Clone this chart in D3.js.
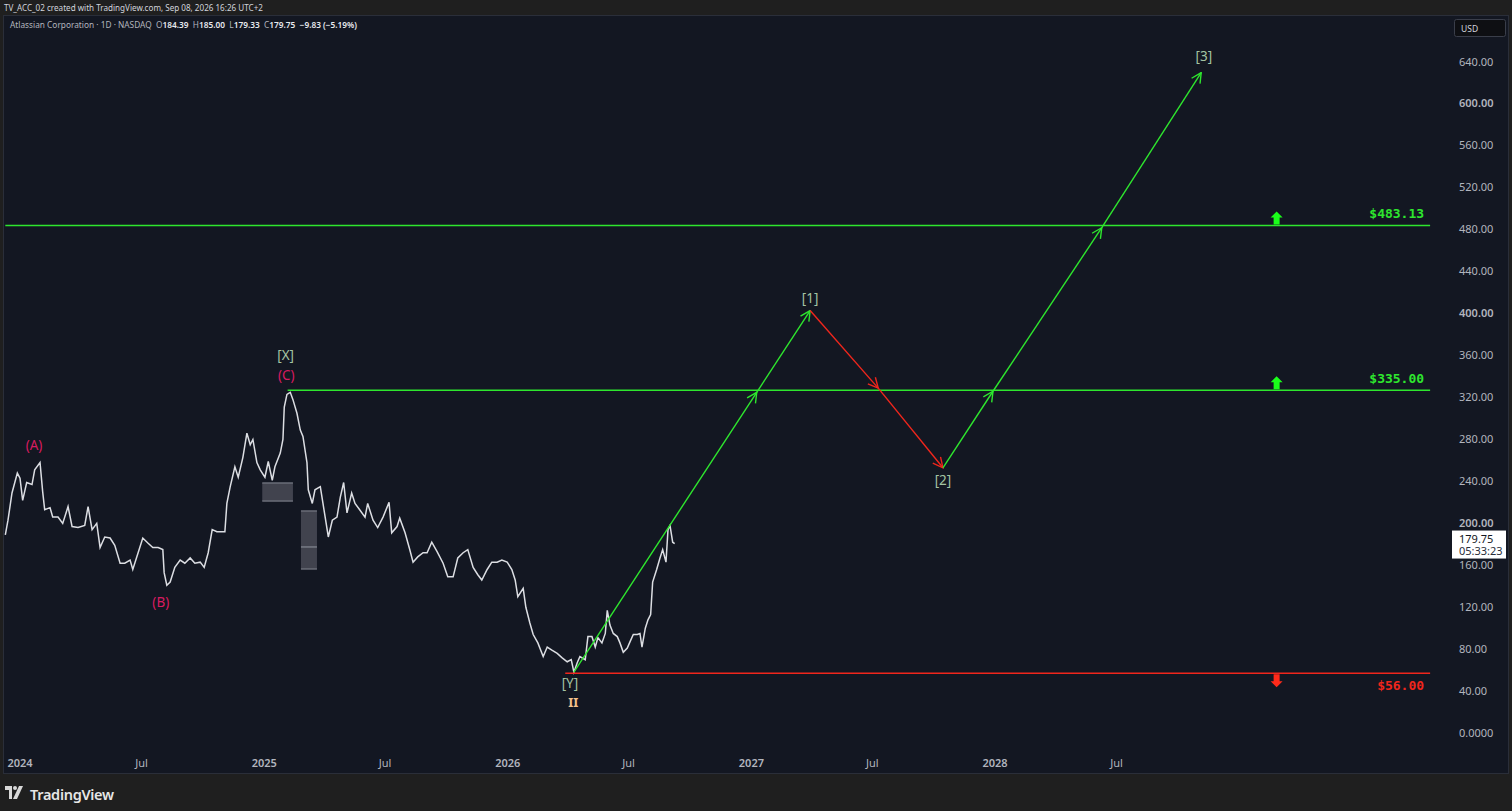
<!DOCTYPE html>
<html><head><meta charset="utf-8">
<script src="https://cdn.jsdelivr.net/npm/d3@7"></script>
<style>
html,body{margin:0;padding:0;background:#1f1f1f;overflow:hidden;}
svg{display:block;}
</style></head>
<body>
<script>
// ---------- DATA ----------
const priceDates = ["2023-12-10","2023-12-14","2023-12-20","2023-12-28","2024-01-01","2024-01-05","2024-01-11","2024-01-19","2024-01-23","2024-01-31",
"2024-02-04","2024-02-07","2024-02-15","2024-02-19","2024-02-27","2024-03-05","2024-03-13","2024-03-19","2024-03-28","2024-04-07",
"2024-04-12","2024-04-18","2024-04-25","2024-04-30","2024-05-07","2024-05-15","2024-05-22","2024-05-30","2024-06-06","2024-06-14",
"2024-06-18","2024-06-26","2024-07-03","2024-07-11","2024-07-18","2024-07-26","2024-08-02","2024-08-04","2024-08-08","2024-08-13",
"2024-08-20","2024-08-28","2024-09-04","2024-09-12","2024-09-19","2024-09-27","2024-10-03","2024-10-09","2024-10-15","2024-10-22",
"2024-10-30","2024-11-03","2024-11-06","2024-11-11","2024-11-18","2024-11-23","2024-11-30","2024-12-06","2024-12-11","2024-12-15",
"2024-12-21","2024-12-26","2025-01-02","2025-01-07","2025-01-13","2025-01-17","2025-01-25","2025-01-29","2025-01-31","2025-02-04",
"2025-02-09","2025-02-13","2025-02-19","2025-02-24","2025-02-28","2025-03-06","2025-03-08","2025-03-14","2025-03-18","2025-03-26",
"2025-03-30","2025-04-07","2025-04-13","2025-04-20","2025-04-25","2025-04-30","2025-05-05","2025-05-12","2025-05-17","2025-05-24",
"2025-06-01","2025-06-05","2025-06-13","2025-06-20","2025-06-28","2025-07-07","2025-07-11","2025-07-19","2025-07-23","2025-07-31",
"2025-08-07","2025-08-12","2025-08-19","2025-08-27","2025-09-02","2025-09-09","2025-09-17","2025-09-26","2025-10-03","2025-10-11",
"2025-10-18","2025-10-26","2025-11-02","2025-11-10","2025-11-17","2025-11-23","2025-12-01","2025-12-08","2025-12-16","2025-12-23",
"2025-12-31","2026-01-07","2026-01-12","2026-01-16","2026-01-24","2026-01-28","2026-02-03","2026-02-08","2026-02-15","2026-02-23",
"2026-03-01","2026-03-08","2026-03-16","2026-03-23","2026-03-31","2026-04-06","2026-04-10","2026-04-15","2026-04-19","2026-04-27",
"2026-05-01","2026-05-07","2026-05-12","2026-05-16","2026-05-22","2026-05-27","2026-05-30","2026-06-03","2026-06-08","2026-06-14",
"2026-06-18","2026-06-23","2026-06-29","2026-07-03","2026-07-08","2026-07-14","2026-07-18","2026-07-21","2026-07-26","2026-07-30",
"2026-08-03","2026-08-06","2026-08-12","2026-08-17","2026-08-21","2026-08-26","2026-08-29","2026-09-01","2026-09-05","2026-09-08"];
const priceValues = [188,202,228,247,242,221,238,236,250,257,
229,212,214,205,205,199,215,196,195,197,
215,193,199,176,186,185,178,161,161,164,
155,171,185,180,176,176,174,152,140,143,
157,164,161,166,161,162,157,171,193,191,
191,191,218,234,253,243,262,285,274,279,
257,250,243,258,240,253,266,279,310,322,
324,317,304,288,282,257,231,218,231,234,
218,186,202,205,224,238,209,228,218,212,
205,218,202,195,205,219,190,196,204,190,
174,162,167,171,171,181,172,161,148,148,
166,171,174,157,150,145,155,162,162,164,
162,155,145,129,137,119,104,93,85,72,
81,78,75,71,67,69,57,66,72,69,
91,91,81,90,85,94,116,102,94,91,
85,76,80,86,93,93,94,81,99,107,
112,143,155,166,174,162,193,197,181,179.75];

// gray zones (date range, price range, mid line)
const zoneStarts = ["2024-12-29","2025-02-25"];
const zoneEnds   = ["2025-02-13","2025-03-21"];
const zoneTops   = [237.5,210.8];
const zoneBottoms= [220.3,155.5];
const zoneMids   = [null,176.5];

// horizontal levels
const levelValues = [483.13, 326, 56];
const levelLabels = ["$483.13","$335.00","$56.00"];
const levelStarts = ["2023-12-10","2025-02-05","2026-03-28"];
const levelEnd = "2029-10-14";
const levelDirs = ["up","up","down"];
const levelArrowDate = "2029-02-26";

// projection path
const projDates  = ["2026-04-10","2027-01-09","2027-03-30","2027-07-10","2027-10-15","2027-12-29","2028-06-09","2028-11-05"];
const projValues = [57,324,402,328,252,325,481,629];
const projColors = ["g","g","r","r","g","g","g"];

// wave labels
const waveTexts  = ["(A)","(B)","(C)","[X]","[Y]","II","[1]","[2]","[3]"];
const waveDates  = ["2024-01-22","2024-07-30","2025-02-03","2025-02-02","2026-04-04","2026-04-09","2027-03-30","2027-10-15","2028-11-09"];
const waveValues = [274,124,340.5,360,46.7,28.6,414,240,645];
const waveKinds  = ["p","p","p","s","s","o","s","s","s"];

const yTicks = [0,40,80,120,160,200,240,280,320,360,400,440,480,520,560,600,640];
const xTickDates = ["2024-01-01","2024-07-01","2025-01-01","2025-07-01","2026-01-01","2026-07-01","2027-01-01","2027-07-01","2028-01-01","2028-07-01"];
const xTickLabels = ["2024","Jul","2025","Jul","2026","Jul","2027","Jul","2028","Jul"];

const legendName = "Atlassian Corporation · 1D · NASDAQ";
const legendOHLC = [["O","184.39"],["H","185.00"],["L","179.33"],["C","179.75"]];
const legendChange = "−9.83 (−5.19%)";
const lastPrice = "179.75";
const countdown = "05:33:23";

// ---------- DRAW ----------
const W = 1512, H = 811;
const parse = d3.utcParse("%Y-%m-%d");
const svg = d3.select("body").append("svg").attr("width", W).attr("height", H);

const BG = "#131722";
const GREEN = "#2ee62e";
const RED = "#f0261c";
const PINK = "#d81b60";
const SAGE = "#a3c4a3";
const AXIS_TXT = "#b2b5be";
const FONT = "'Noto Sans', 'Open Sans', sans-serif";

// outer & header
svg.append("rect").attr("width", W).attr("height", H).attr("fill", "#1f1f1f");
svg.append("text").attr("x", 4).attr("y", 10.5).attr("fill", "#d1d4dc")
  .attr("font-family", FONT).attr("font-size", 8.1)
  .text("TV_ACC_02 created with TradingView.com, Sep 08, 2026 16:26 UTC+2");

// panel
svg.append("rect").attr("x", 3.5).attr("y", 15.5).attr("width", 1505).attr("height", 758)
  .attr("fill", BG).attr("stroke", "#2a2e39").attr("stroke-width", 1);

// scales
const x = d3.scaleUtc().domain([parse("2024-01-01"), parse("2028-01-01")]).range([20, 995]);
const y = d3.scaleLinear().domain([0, 640]).range([732, 61]);

const defs = svg.append("defs");
defs.append("clipPath").attr("id", "plot").append("rect")
  .attr("x", 4).attr("y", 16).attr("width", 1444).attr("height", 757);
["g","r"].forEach(k => {
  defs.append("marker").attr("id", "arr-" + k)
    .attr("viewBox", "0 0 12 12").attr("refX", 11).attr("refY", 6)
    .attr("markerWidth", 12).attr("markerHeight", 12)
    .attr("markerUnits", "userSpaceOnUse").attr("orient", "auto")
    .append("path").attr("d", "M1,1 L11,6 L1,11")
    .attr("fill", "none").attr("stroke", k === "g" ? GREEN : RED).attr("stroke-width", 1.4);
});

const plot = svg.append("g").attr("clip-path", "url(#plot)");

// zones
zoneStarts.forEach((s, i) => {
  const x0 = x(parse(s)), x1 = x(parse(zoneEnds[i]));
  const y0 = y(zoneTops[i]), y1 = y(zoneBottoms[i]);
  plot.append("rect").attr("x", x0).attr("y", y0).attr("width", x1 - x0).attr("height", y1 - y0)
    .attr("fill", "#434651").attr("fill-opacity", 0.95);
  plot.append("line").attr("x1", x0).attr("x2", x1).attr("y1", y0).attr("y2", y0).attr("stroke", "#6a6d78").attr("stroke-width", 1.5);
  plot.append("line").attr("x1", x0).attr("x2", x1).attr("y1", y1).attr("y2", y1).attr("stroke", "#6a6d78").attr("stroke-width", 1.5);
  if (zoneMids[i] != null) {
    plot.append("line").attr("x1", x0).attr("x2", x1).attr("y1", y(zoneMids[i])).attr("y2", y(zoneMids[i]))
      .attr("stroke", "#787b86").attr("stroke-width", 1.5);
  }
});

// price series
const series = priceDates.map((d, i) => ({ d: parse(d), v: priceValues[i] }));
plot.append("path").datum(series)
  .attr("d", d3.line().x(p => x(p.d)).y(p => y(p.v)))
  .attr("fill", "none").attr("stroke", "#dcdee3").attr("stroke-width", 1.5).attr("stroke-linejoin", "miter");

// levels
levelValues.forEach((v, i) => {
  const col = levelDirs[i] === "up" ? GREEN : RED;
  const yy = y(v);
  plot.append("line").attr("x1", x(parse(levelStarts[i]))).attr("x2", x(parse(levelEnd)))
    .attr("y1", yy).attr("y2", yy).attr("stroke", col).attr("stroke-width", 1.5);
  const ax = x(parse(levelArrowDate));
  let pts;
  if (levelDirs[i] === "up") {
    pts = [[ax, yy-14],[ax+6, yy-8],[ax+3, yy-8],[ax+3, yy-1],[ax-3, yy-1],[ax-3, yy-8],[ax-6, yy-8]];
  } else {
    pts = [[ax, yy+14],[ax+6, yy+8],[ax+3, yy+8],[ax+3, yy+1],[ax-3, yy+1],[ax-3, yy+8],[ax-6, yy+8]];
  }
  plot.append("polygon").attr("points", pts.map(p => p.join(",")).join(" ")).attr("fill", levelDirs[i] === "up" ? "#1aff1a" : "#ff2a1a");
  plot.append("text").attr("x", x(parse(levelEnd)) - 6)
    .attr("y", levelDirs[i] === "up" ? yy - 12 : yy + 12)
    .attr("text-anchor", "end").attr("dominant-baseline", "central")
    .attr("fill", col).attr("font-family", "'DejaVu Sans Mono', monospace").attr("font-size", 13)
    .attr("font-weight", 700)
    .text(levelLabels[i]);
});

// projection path
for (let i = 0; i < projDates.length - 1; i++) {
  const k = projColors[i];
  plot.append("line")
    .attr("x1", x(parse(projDates[i]))).attr("y1", y(projValues[i]))
    .attr("x2", x(parse(projDates[i+1]))).attr("y2", y(projValues[i+1]))
    .attr("stroke", k === "g" ? GREEN : RED).attr("stroke-width", 1.4)
    .attr("marker-end", "url(#arr-" + k + ")");
}

// wave labels
const kindColor = { p: PINK, s: SAGE, o: "#f2c08c" };
waveTexts.forEach((t, i) => {
  plot.append("text").attr("x", x(parse(waveDates[i]))).attr("y", y(waveValues[i]))
    .attr("text-anchor", "middle").attr("dominant-baseline", "central")
    .attr("fill", kindColor[waveKinds[i]]).attr("font-family", FONT)
    .attr("font-size", waveKinds[i] === "o" ? 13 : 13.5)
    .attr("font-weight", waveKinds[i] === "o" ? 700 : 400)
    .text(t);
});

// y axis labels
const yAx = svg.append("g");
yTicks.forEach(t => {
  yAx.append("text").attr("x", 1459).attr("y", y(t)).attr("dominant-baseline", "central")
    .attr("fill", AXIS_TXT).attr("font-family", FONT).attr("font-size", 11)
    .attr("font-weight", (t % 200 === 0 && t > 0) ? 600 : 400)
    .text(t === 0 ? "0.0000" : d3.format(".2f")(t));
});

// x axis labels
xTickDates.forEach((d, i) => {
  svg.append("text").attr("x", x(parse(d))).attr("y", 762).attr("text-anchor", "middle")
    .attr("dominant-baseline", "central").attr("fill", AXIS_TXT)
    .attr("font-family", FONT).attr("font-size", 11).attr("font-weight", /^\d/.test(xTickLabels[i]) ? 600 : 400)
    .text(xTickLabels[i]);
});

// USD box
svg.append("rect").attr("x", 1454.5).attr("y", 19.5).attr("width", 51).attr("height", 17).attr("rx", 2)
  .attr("fill", "#0e0f13").attr("stroke", "#3a3e4a");
svg.append("text").attr("x", 1461).attr("y", 28.5).attr("dominant-baseline", "central")
  .attr("fill", "#d1d4dc").attr("font-family", FONT).attr("font-size", 8.5).text("USD");

// last price box
const lp = y(+lastPrice);
svg.append("rect").attr("x", 1452).attr("y", lp - 13).attr("width", 54).attr("height", 28).attr("fill", "#ffffff");
svg.append("text").attr("x", 1459).attr("y", lp - 5).attr("dominant-baseline", "central")
  .attr("fill", "#131722").attr("font-family", FONT).attr("font-size", 11).text(lastPrice);
svg.append("text").attr("x", 1459).attr("y", lp + 7).attr("dominant-baseline", "central")
  .attr("fill", "#2a2e39").attr("font-family", FONT).attr("font-size", 11).text(countdown);

// legend
const lg = svg.append("text").attr("x", 10).attr("y", 27.5).attr("font-family", FONT).attr("font-size", 8.3).attr("fill", AXIS_TXT)
  .attr("xml:space", "preserve");
lg.append("tspan").text(legendName + "  ");
legendOHLC.forEach(([k, v]) => {
  lg.append("tspan").text(k);
  lg.append("tspan").attr("fill", "#e8eaee").attr("font-weight", 600).text(v + "  ");
});
lg.append("tspan").attr("fill", "#e8eaee").attr("font-weight", 600).text(legendChange);

// footer logo
const logo = svg.append("g").attr("transform", "translate(5,786)");
logo.append("path").attr("d", "M0,0 H7 V13 H4 V4 H0 Z").attr("fill", "#d8d8d8");
logo.append("circle").attr("cx", 10).attr("cy", 2).attr("r", 2).attr("fill", "#d8d8d8");
logo.append("path").attr("d", "M14,0 H18 L12,13 H8 Z").attr("fill", "#d8d8d8");
svg.append("text").attr("x", 30).attr("y", 794).attr("dominant-baseline", "central")
  .attr("fill", "#e6e6e6").attr("font-family", FONT).attr("font-size", 14.5).attr("font-weight", 600)
  .attr("letter-spacing", -0.3).text("TradingView");
</script>
</body></html>
